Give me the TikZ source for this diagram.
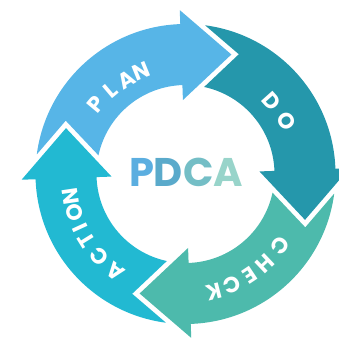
\documentclass[tikz,border=0pt]{standalone}
\usepackage{fontspec}
\setmainfont{Poppins}
\definecolor{plancol}{HTML}{57B5E7}
\definecolor{docol}{HTML}{2597AB}
\definecolor{checkcol}{HTML}{4DBAAC}
\definecolor{actcol}{HTML}{22B9D2}
\definecolor{pcol}{HTML}{5BAEE0}
\definecolor{dcol}{HTML}{5AAACB}
\definecolor{ccol}{HTML}{74BEC6}
\definecolor{acol}{HTML}{98D4CA}

\begin{document}
\begin{tikzpicture}[x=1pt, y=1pt]
    \tikzstyle{letter}=[text=white, inner sep=0pt, font=\fontsize{22}{22}\selectfont\bfseries]
    \tikzstyle{title}=[inner sep=0pt, font=\fontsize{40}{40}\selectfont\bfseries]
    \useasboundingbox (-185.5,-164) rectangle (153.5,174);

    % ring pieces: band, head, and a notch round the head before it
    \fill [plancol] (172.5:150) arc (172.5:92:150) -- (92:164) -- (69:128) -- (92:74)
        -- (92:89) arc (92:167.9:89) -- (156:131.1) -- cycle;
    \fill [docol] (82.5:150) arc (82.5:2:150) -- (2:164) -- (-21:128) -- (2:74)
        -- (2:89) arc (2:77.9:89) -- (66:131.1) -- cycle;
    \fill [checkcol] (-7.5:150) arc (-7.5:-88:150) -- (-88:164) -- (-111:128) -- (-88:74)
        -- (-88:89) arc (-88:-12.1:89) -- (-24:131.1) -- cycle;
    \fill [actcol] (-97.5:150) arc (-97.5:-178:150) -- (-178:164) -- (-201:128) -- (-178:74)
        -- (-178:89) arc (-178:-102.1:89) -- (-114:131.1) -- cycle;

    \begin{scope}[shift={(0,-5)}]
        \foreach \ch/\ang [count=\i] in {P/140.2, L/130.2, A/120.7, N/112.2}
            \node [style=letter, rotate=\ang-90] (plan\i) at (\ang:116) {\ch};
        \foreach \ch/\ang [count=\i] in {D/41.9, O/29.9}
            \node [style=letter, rotate=\ang-90] (do\i) at (\ang:116) {\ch};
        \foreach \ch/\ang [count=\i] in {C/-35.1, H/-46.6, E/-56.3, C/-66.4, K/-75.7}
            \node [style=letter, rotate=\ang-90] (check\i) at (\ang:116) {\ch};
        \foreach \ch/\ang [count=\i] in {A/232.7, C/221.6, T/211.8, I/204.7, O/197, N/188.5}
            \node [style=letter, rotate=\ang-90] (act\i) at (\ang:116) {\ch};
    \end{scope}

    \node [style=title] (pdca) at (0.5,2) {\color{pcol}P\color{dcol}D\color{ccol}C\color{acol}A};
\end{tikzpicture}
\end{document}
